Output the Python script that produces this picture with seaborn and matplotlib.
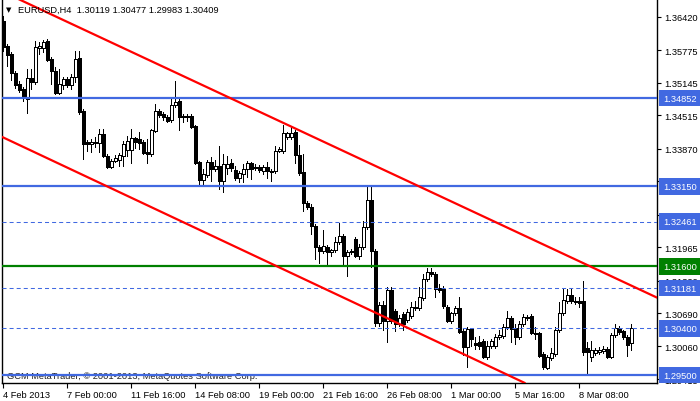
import numpy as np
import matplotlib
matplotlib.use("Agg")
import matplotlib.pyplot as plt
import seaborn as sns

# ---- data (EURUSD, H4) ----
open_ = [1.3634,1.3586,1.3570,1.3534,1.3512,1.3503,1.3483,1.3524,1.3516,1.3582,
         1.3582,1.3595,1.3561,1.3537,1.3495,1.3510,1.3522,1.3510,1.3526,1.3563,
         1.3460,1.3400,1.3396,1.3398,1.3398,1.3416,1.3373,1.3352,1.3364,1.3365,
         1.3373,1.3385,1.3385,1.3408,1.3406,1.3400,1.3381,1.3377,1.3421,1.3460,
         1.3454,1.3449,1.3443,1.3472,1.3479,1.3450,1.3451,1.3450,1.3431,1.3362,
         1.3327,1.3336,1.3362,1.3348,1.3354,1.3325,1.3350,1.3360,1.3346,1.3331,
         1.3338,1.3348,1.3360,1.3352,1.3352,1.3344,1.3352,1.3344,1.3344,1.3383,
         1.3383,1.3410,1.3410,1.3420,1.3375,1.3342,1.3282,1.3275,1.3238,1.3197,
         1.3190,1.3197,1.3188,1.3192,1.3207,1.3219,1.3180,1.3188,1.3213,1.3180,
         1.3197,1.3236,1.3288,1.3190,1.3051,1.3085,1.3054,1.3114,1.3074,1.3049,
         1.3068,1.3056,1.3064,1.3080,1.3080,1.3099,1.3136,1.3149,1.3145,1.3118,
         1.3116,1.3081,1.3054,1.3070,1.3080,1.3035,1.3004,1.3039,1.3012,1.3014,
         1.3016,1.2985,1.3006,1.3006,1.3023,1.3025,1.3043,1.3060,1.3041,1.3023,
         1.3049,1.3060,1.3064,1.3031,1.3031,1.2991,1.2964,1.2983,1.2991,1.3037,
         1.3070,1.3093,1.3105,1.3093,1.3093,1.3093,1.3002,1.2985,1.2993,1.2995,
         1.2996,1.3000,1.2985,1.3027,1.3041,1.3035,1.3023,1.30119]
high = [1.3644,1.3590,1.3574,1.3537,1.3518,1.3506,1.3541,1.3541,1.3595,1.3593,
        1.3597,1.3599,1.3564,1.3545,1.3541,1.3526,1.3526,1.3532,1.3576,1.3576,
        1.3464,1.3404,1.3406,1.3410,1.3425,1.3425,1.3377,1.3367,1.3375,1.3379,
        1.3402,1.3412,1.3425,1.3410,1.3420,1.3404,1.3406,1.3425,1.3474,1.3464,
        1.3458,1.3452,1.3483,1.3518,1.3483,1.3454,1.3455,1.3454,1.3433,1.3364,
        1.3348,1.3365,1.3371,1.3365,1.3392,1.3377,1.3373,1.3367,1.3354,1.3344,
        1.3358,1.3364,1.3362,1.3358,1.3356,1.3356,1.3362,1.3348,1.3392,1.3391,
        1.3433,1.3420,1.3429,1.3423,1.3394,1.3377,1.3286,1.3280,1.3242,1.3201,
        1.3230,1.3201,1.3194,1.3217,1.3244,1.3222,1.3192,1.3194,1.3217,1.3203,
        1.3248,1.3315,1.3315,1.3194,1.3091,1.3093,1.3120,1.3120,1.3078,1.3066,
        1.3072,1.3078,1.3091,1.3093,1.3120,1.3145,1.3157,1.3157,1.3149,1.3126,
        1.3122,1.3085,1.3072,1.3083,1.3101,1.3039,1.3043,1.3041,1.3023,1.3025,
        1.3020,1.3016,1.3020,1.3029,1.3037,1.3049,1.3074,1.3064,1.3049,1.3054,
        1.3068,1.3066,1.3068,1.3043,1.3033,1.2995,1.2989,1.3002,1.3043,1.3091,
        1.3116,1.3116,1.3116,1.3101,1.3101,1.3132,1.3014,1.3016,1.3002,1.3004,
        1.3006,1.3004,1.3031,1.3049,1.3045,1.3037,1.3027,1.30477]
low = [1.3576,1.3547,1.3520,1.3505,1.3497,1.3479,1.3456,1.3503,1.3512,1.3570,
       1.3574,1.3557,1.3512,1.3493,1.3493,1.3503,1.3506,1.3503,1.3516,1.3454,
       1.3367,1.3383,1.3381,1.3391,1.3381,1.3371,1.3350,1.3350,1.3362,1.3354,
       1.3354,1.3373,1.3360,1.3389,1.3387,1.3377,1.3360,1.3373,1.3420,1.3449,
       1.3443,1.3439,1.3439,1.3468,1.3423,1.3439,1.3441,1.3427,1.3358,1.3315,
       1.3317,1.3333,1.3325,1.3344,1.3309,1.3304,1.3338,1.3344,1.3327,1.3323,
       1.3323,1.3333,1.3329,1.3346,1.3342,1.3338,1.3331,1.3325,1.3340,1.3381,
       1.3379,1.3406,1.3406,1.3360,1.3336,1.3267,1.3271,1.3222,1.3174,1.3166,
       1.3186,1.3161,1.3180,1.3188,1.3203,1.3161,1.3141,1.3184,1.3178,1.3174,
       1.3194,1.3232,1.3159,1.3045,1.3045,1.3037,1.3014,1.3051,1.3035,1.3045,
       1.3037,1.3052,1.3060,1.3076,1.3076,1.3095,1.3132,1.3141,1.3101,1.3110,
       1.3080,1.3052,1.3051,1.3066,1.3031,1.2989,1.2966,1.3006,1.3000,1.3000,
       1.2983,1.2981,1.3002,1.3002,1.3020,1.3021,1.3039,1.3014,1.3010,1.3020,
       1.3045,1.3056,1.3029,1.3020,1.2985,1.2962,1.2962,1.2979,1.2987,1.3033,
       1.3066,1.3089,1.3089,1.3087,1.3081,1.2989,1.2952,1.2977,1.2989,1.2991,
       1.2993,1.2983,1.2983,1.3023,1.3029,1.3020,1.2987,1.29983]
close = [1.3584,1.3568,1.3534,1.3510,1.3501,1.3487,1.3524,1.3516,1.3584,1.3586,
         1.3593,1.3559,1.3537,1.3495,1.3512,1.3522,1.3510,1.3526,1.3561,1.3458,
         1.3396,1.3396,1.3400,1.3400,1.3416,1.3373,1.3352,1.3364,1.3369,1.3375,
         1.3396,1.3402,1.3408,1.3400,1.3398,1.3379,1.3377,1.3423,1.3460,1.3452,
         1.3449,1.3441,1.3472,1.3477,1.3449,1.3449,1.3448,1.3429,1.3360,1.3327,
         1.3338,1.3362,1.3348,1.3354,1.3325,1.3358,1.3358,1.3350,1.3331,1.3340,
         1.3348,1.3360,1.3348,1.3350,1.3346,1.3352,1.3344,1.3342,1.3383,1.3387,
         1.3418,1.3418,1.3418,1.3375,1.3340,1.3282,1.3275,1.3238,1.3197,1.3190,
         1.3199,1.3188,1.3192,1.3207,1.3219,1.3180,1.3188,1.3190,1.3180,1.3197,
         1.3236,1.3288,1.3190,1.3051,1.3085,1.3054,1.3114,1.3054,1.3049,1.3060,
         1.3049,1.3072,1.3081,1.3081,1.3101,1.3136,1.3149,1.3145,1.3116,1.3114,
         1.3083,1.3054,1.3070,1.3080,1.3033,1.3004,1.3039,1.3020,1.3008,1.3006,
         1.2985,1.3006,1.3016,1.3023,1.3027,1.3043,1.3060,1.3039,1.3023,1.3049,
         1.3062,1.3062,1.3031,1.3029,1.2987,1.2966,1.2985,1.2993,1.3037,1.3070,
         1.3095,1.3105,1.3093,1.3091,1.3089,1.2995,1.2995,1.2998,1.2998,1.2998,
         1.3000,1.2985,1.3027,1.3041,1.3033,1.3023,1.3008,1.30409]

date_tick_bars = [0, 16, 32, 48, 64, 80, 96, 112, 128, 144]
date_labels = ["4 Feb 2013", "7 Feb 00:00", "11 Feb 16:00", "14 Feb 08:00",
               "19 Feb 00:00", "21 Feb 16:00", "26 Feb 08:00", "1 Mar 00:00",
               "5 Mar 16:00", "8 Mar 08:00"]
price_ticks = [1.36420, 1.35775, 1.35145, 1.34515, 1.33870, 1.33240,
               1.32595, 1.31965, 1.31320, 1.30690, 1.30060, 1.29415]
solid_levels = [1.34852, 1.33150, 1.29500]
green_levels = [1.31600]
dashed_levels = [1.32461, 1.31181, 1.30400]
upper_channel_bars = [56.7, 146.7]
upper_channel_prices = [1.34852, 1.31600]
lower_channel_bars = [-0.3, 74.2]
lower_channel_prices = [1.34100, 1.31390]

title_text = "EURUSD,H4  1.30119 1.30477 1.29983 1.30409"
footer_text = "GCM MetaTrader, \u00a9 2001-2013, MetaQuotes Software Corp."

# ---- style ----
sns.set_theme(style="white")
plt.rcParams['font.family'] = ['Liberation Sans', 'DejaVu Sans']
plt.rcParams['lines.scale_dashes'] = False
FS = 6.7
BLUE = '#4169E1'
GREEN = '#008000'

W, H = 700, 402
fig = plt.figure(figsize=(W / 100, H / 100), dpi=100)
ax = fig.add_axes([2 / W, 18 / H, 655 / W, 384 / H])
ax.set_facecolor('white')

n = len(close)
idx = np.arange(n)
o = np.array(open_); c = np.array(close)
hi = np.array(high); lo = np.array(low)
up = c >= o

ax.vlines(idx, lo, hi, color='black', lw=0.72, zorder=2, antialiased=False)
ax.bar(idx[up], (c - o)[up], bottom=o[up], width=0.62, color='white',
       edgecolor='black', linewidth=0.72, zorder=3, antialiased=False)
ax.bar(idx[~up], (o - c)[~up], bottom=c[~up], width=0.62, color='black',
       edgecolor='black', linewidth=0.72, zorder=3, antialiased=False)

for lv in dashed_levels:
    ax.axhline(lv, color=BLUE, lw=0.75, dashes=(2.9, 2.2), zorder=4)
for lv in solid_levels:
    ax.axhline(lv, color=BLUE, lw=1.6, zorder=4)
for lv in green_levels:
    ax.axhline(lv, color=GREEN, lw=1.6, zorder=4)

ax.axline((upper_channel_bars[0], upper_channel_prices[0]),
          (upper_channel_bars[1], upper_channel_prices[1]), color='red', lw=1.6, zorder=5)
ax.axline((lower_channel_bars[0], lower_channel_prices[0]),
          (lower_channel_bars[1], lower_channel_prices[1]), color='red', lw=1.6, zorder=5)

ax.set_xlim(-0.325, 163.425)
ax.set_ylim(1.29346, 1.36765)

# axes / ticks
for s in ['left', 'bottom', 'right']:
    ax.spines[s].set_visible(True)
    ax.spines[s].set_color('black')
    ax.spines[s].set_linewidth(1.0)
ax.spines['top'].set_visible(False)

ax.yaxis.tick_right()
ax.set_yticks(price_ticks)
ax.set_yticklabels([f"{p:.5f}" for p in price_ticks])
ax.set_xticks(date_tick_bars)
ax.set_xticklabels(date_labels)
for lbl in ax.get_xticklabels():
    lbl.set_horizontalalignment('left')
ax.tick_params(axis='y', which='both', right=True, left=False, direction='out',
               length=3, width=0.8, pad=2, labelsize=FS, colors='black')
ax.tick_params(axis='x', which='both', bottom=True, direction='out',
               length=3.5, width=0.8, pad=1.5, labelsize=FS, colors='black')
ax.grid(False)

# level labels on price scale
ytr = ax.get_yaxis_transform()
for lv, col in [(v, BLUE) for v in solid_levels + dashed_levels] + [(v, GREEN) for v in green_levels]:
    ax.text(1.0093, lv, f"{lv:.5f}", transform=ytr, color='white', fontsize=FS,
            ha='left', va='center', zorder=10, clip_on=False,
            bbox=dict(boxstyle='square,pad=0.42', fc=col, ec='none'))

# title and footer
ax.text(4 / 655, 1 - 10 / 384, "\u25BC", transform=ax.transAxes, fontsize=5,
        family=['DejaVu Sans'], ha='left', va='center', color='black', zorder=10)
ax.text(16 / 655, 1 - 10 / 384, title_text, transform=ax.transAxes, fontsize=FS,
        ha='left', va='center', color='black', zorder=10)
ax.text(5 / 655, 7 / 384, footer_text, transform=ax.transAxes, fontsize=FS,
        ha='left', va='center', color='#202020', zorder=3)

fig.savefig("out.png", dpi=100, facecolor='white')
